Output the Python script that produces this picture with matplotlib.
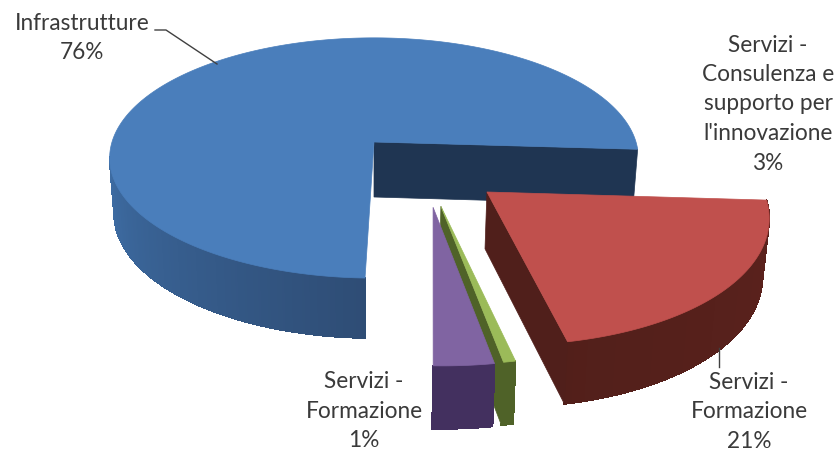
import matplotlib
matplotlib.use("Agg")
import matplotlib.pyplot as plt
from matplotlib.collections import PolyCollection
from matplotlib.colors import to_rgb
import numpy as np

plt.rcParams['font.family'] = ['Lato', 'DejaVu Sans']

# quote di torta (i valori non arrotondati sommano a 100)
slices = ['Infrastrutture', 'Consulenza', 'Formazione 1', 'Formazione 21']
values = [75.5, 3.0, 0.6, 20.9]

top_colors = ['#4a7ebb', '#8064a2', '#9bbb59', '#c0504d']
wall_colors = ['#1f3552', '#43305f', '#4f6228', '#501f1b']
rim_light = ['#4071aa', '#43305f', '#4f6228', '#5c221d']
rim_dark = ['#2e4c74', '#43305f', '#4f6228', '#511f1a']
explode = [(0.0, 0.0), (0.21, -0.515), (0.238, -0.508), (0.408, -0.401)]
draw_order = [0, 2, 1, 3]

start_angle = -3.5
CX, CY = 374, 142
RX, RY = 262, 118
K = 0.133
DEPTH = 55


def project(u, v):
    s = 1 / (1 + K * v)
    return CX + RX * u * s, CY - RY * v * s, s


def floor(u, v):
    # il punto corrispondente sul fondo del solido
    x, y, s = project(u, v)
    return CX + (x - CX) * 0.983, y + DEPTH * s ** 0.6


fig = plt.figure(figsize=(8.38, 4.51), dpi=100)
ax = fig.add_axes([0, 0, 1, 1])
ax.set_xlim(0, 838)
ax.set_ylim(451, 0)
ax.axis('off')

edges = np.cumsum([0] + values) / sum(values) * 360 + start_angle

for z, i in enumerate(draw_order):
    a, b = edges[i], edges[i + 1]
    du, dv = explode[i]
    th = np.radians(np.linspace(a, b, max(int(b - a) * 2, 6)))
    u = du + np.cos(th)
    v = dv + np.sin(th)

    # bordo esterno, solo la parte verso chi guarda
    quads = []
    cols = []
    front = np.where((np.sin(th) < -0.12 + 0.14 * (i > 0)) & (th > 0))[0]
    c1, c2 = np.array(to_rgb(rim_light[i])), np.array(to_rgb(rim_dark[i]))
    for j in front[:-1]:
        quads.append([project(u[j], v[j])[:2], project(u[j + 1], v[j + 1])[:2],
                      floor(u[j + 1], v[j + 1]), floor(u[j], v[j])])
        t = np.clip((np.pi * 1.5 - abs(th[j] - np.pi * 1.5)) / (np.pi * 1.5), 0, 1)
        t = np.clip((t - 2 / 3) * 3, 0, 1)
        cols.append(c1 + (c2 - c1) * t)
    if quads:
        # sagoma piena sotto, per non far vedere le giunture
        outline = [q[0] for q in quads] + [quads[-1][1], quads[-1][2]] + [q[3] for q in quads[::-1]]
        ax.add_patch(plt.Polygon(outline, fc=(c1 + c2) / 2, ec=(c1 + c2) / 2, lw=0.5, zorder=z))
        ax.add_collection(PolyCollection(quads, facecolors=cols, edgecolors=cols, linewidths=0.6,
                                         antialiaseds=False, zorder=z))

    # parete radiale
    if np.cos(th[0]) > 0:
        wall = [project(du, dv)[:2], project(u[0], v[0])[:2], floor(u[0], v[0]), floor(du, dv)]
        ax.add_patch(plt.Polygon(wall, fc=wall_colors[i], ec=wall_colors[i], lw=0.5, zorder=z))

    # superficie superiore
    pts = [project(du, dv)[:2]] + [project(p, q)[:2] for p, q in zip(u, v)]
    ax.add_patch(plt.Polygon(pts, fc=top_colors[i], ec=top_colors[i], lw=0.5, zorder=z))

# etichette e linee guida
txt = '#3a3a3a'
ax.plot([155, 166, 217], [30, 30, 64], color='#404040', lw=1, zorder=5)
ax.plot([719, 719], [348, 367], color='#404040', lw=1, zorder=5)

labels = ['Infrastrutture\n76%', "Servizi -\nConsulenza e\nsupporto per\nl'innovazione\n3%",
          'Servizi -\nFormazione\n1%', 'Servizi -\nFormazione\n21%']
label_x = [82, 768, 364, 749]
label_y = [38, 104, 411, 412]
for s, x, y in zip(labels, label_x, label_y):
    ax.text(x, y, s, ha='center', va='center', fontsize=16.3, color=txt, linespacing=1.5, zorder=6)

fig.savefig('out.png', dpi=100, facecolor='white')
